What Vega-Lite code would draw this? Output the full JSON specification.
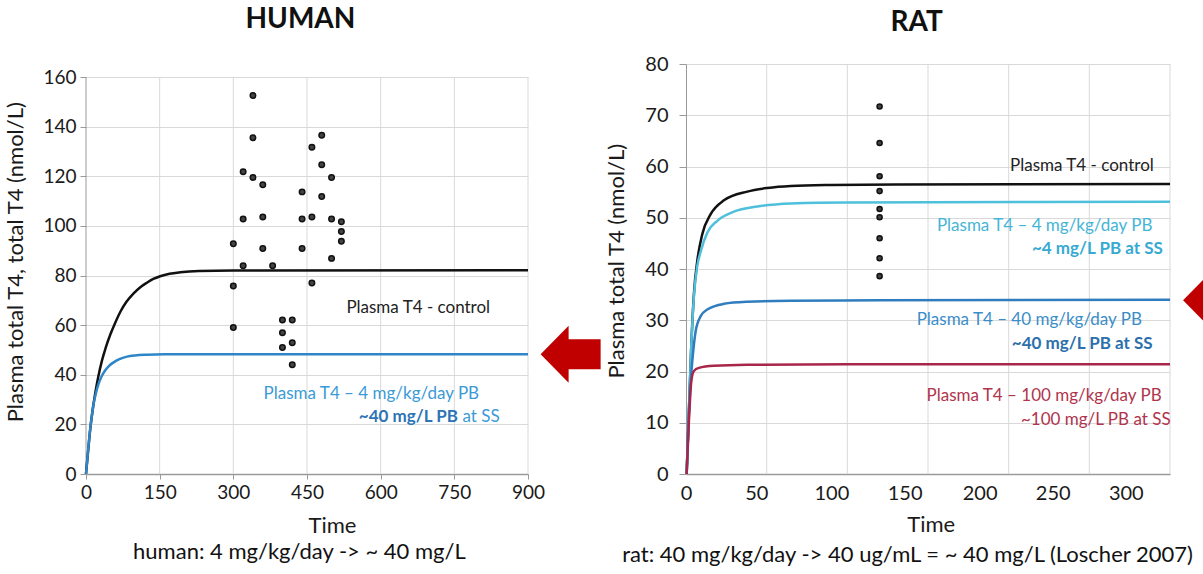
{
  "$schema": "https://vega.github.io/schema/vega-lite/v6.json",
  "background": "white",
  "padding": {"left": 4, "top": 5, "right": 0, "bottom": 0},
  "config": {"view": {"stroke": null}, "font": "Lato", "axis": {"labelFont": "Lato", "titleFont": "Lato"}},
  "datasets": {
    "humanCurves": [
      {"x": 0, "y": 0, "series": "control"}, {"x": 4, "y": 8.6, "series": "control"}, {"x": 8.8, "y": 18.4, "series": "control"}, {"x": 14, "y": 26.5, "series": "control"}, {"x": 19, "y": 32.8, "series": "control"}, {"x": 25, "y": 39.2, "series": "control"}, {"x": 32.6, "y": 45.8, "series": "control"}, {"x": 40, "y": 50.8, "series": "control"}, {"x": 49.5, "y": 56.2, "series": "control"}, {"x": 60, "y": 61.2, "series": "control"}, {"x": 70, "y": 65.4, "series": "control"}, {"x": 82, "y": 69.3, "series": "control"}, {"x": 97, "y": 72.8, "series": "control"}, {"x": 110, "y": 75.2, "series": "control"}, {"x": 124, "y": 77.1, "series": "control"}, {"x": 137, "y": 78.6, "series": "control"}, {"x": 151, "y": 79.7, "series": "control"}, {"x": 170, "y": 80.7, "series": "control"}, {"x": 192, "y": 81.3, "series": "control"}, {"x": 230, "y": 81.8, "series": "control"}, {"x": 300, "y": 82.0, "series": "control"}, {"x": 900, "y": 82.1, "series": "control"},
      {"x": 0, "y": 0, "series": "pb4"}, {"x": 4, "y": 8.8, "series": "pb4"}, {"x": 8.8, "y": 18.6, "series": "pb4"}, {"x": 12, "y": 23.5, "series": "pb4"}, {"x": 15.5, "y": 28.2, "series": "pb4"}, {"x": 20, "y": 32.4, "series": "pb4"}, {"x": 25.7, "y": 36.4, "series": "pb4"}, {"x": 32, "y": 39.4, "series": "pb4"}, {"x": 39.3, "y": 41.8, "series": "pb4"}, {"x": 47, "y": 43.6, "series": "pb4"}, {"x": 56.2, "y": 45.0, "series": "pb4"}, {"x": 68, "y": 46.3, "series": "pb4"}, {"x": 83.5, "y": 47.3, "series": "pb4"}, {"x": 100, "y": 47.8, "series": "pb4"}, {"x": 124, "y": 48.1, "series": "pb4"}, {"x": 160, "y": 48.3, "series": "pb4"}, {"x": 900, "y": 48.3, "series": "pb4"}
    ],
    "humanObserved": [
      {"x": 300, "y": 92.8}, {"x": 300, "y": 75.8}, {"x": 300, "y": 59.0},
      {"x": 320, "y": 121.8}, {"x": 320, "y": 102.8}, {"x": 320, "y": 83.9},
      {"x": 340, "y": 152.5}, {"x": 340, "y": 135.5}, {"x": 340, "y": 119.5},
      {"x": 360, "y": 116.6}, {"x": 360, "y": 103.6}, {"x": 360, "y": 90.9},
      {"x": 380, "y": 83.9},
      {"x": 400, "y": 62.1}, {"x": 400, "y": 56.9}, {"x": 400, "y": 51.0},
      {"x": 420, "y": 62.1}, {"x": 420, "y": 52.9}, {"x": 420, "y": 44.0},
      {"x": 440, "y": 113.7}, {"x": 440, "y": 102.8}, {"x": 440, "y": 90.9},
      {"x": 460, "y": 131.7}, {"x": 460, "y": 103.6}, {"x": 460, "y": 77.0},
      {"x": 480, "y": 136.5}, {"x": 480, "y": 124.6}, {"x": 480, "y": 111.8},
      {"x": 500, "y": 119.5}, {"x": 500, "y": 102.8}, {"x": 500, "y": 86.9},
      {"x": 520, "y": 101.7}, {"x": 520, "y": 97.7}, {"x": 520, "y": 93.8}
    ],
    "ratCurves": [
      {"x": 0.4, "y": 0, "series": "control"}, {"x": 1.8, "y": 12.3, "series": "control"}, {"x": 3.3, "y": 25.3, "series": "control"}, {"x": 4.9, "y": 35.1, "series": "control"}, {"x": 7, "y": 41.6, "series": "control"}, {"x": 10.1, "y": 46.8, "series": "control"}, {"x": 15.3, "y": 50.7, "series": "control"}, {"x": 23.5, "y": 53.4, "series": "control"}, {"x": 38, "y": 55.1, "series": "control"}, {"x": 50.4, "y": 55.8, "series": "control"}, {"x": 65, "y": 56.2, "series": "control"}, {"x": 90, "y": 56.4, "series": "control"}, {"x": 130, "y": 56.5, "series": "control"}, {"x": 300, "y": 56.6, "series": "control"},
      {"x": 0.4, "y": 0, "series": "pb4"}, {"x": 1.8, "y": 12.3, "series": "pb4"}, {"x": 3.3, "y": 25.2, "series": "pb4"}, {"x": 4.9, "y": 34.6, "series": "pb4"}, {"x": 7, "y": 40.6, "series": "pb4"}, {"x": 9.1, "y": 43.4, "series": "pb4"}, {"x": 13.2, "y": 47.1, "series": "pb4"}, {"x": 19.4, "y": 49.4, "series": "pb4"}, {"x": 29.7, "y": 51.2, "series": "pb4"}, {"x": 44.2, "y": 52.2, "series": "pb4"}, {"x": 65, "y": 52.8, "series": "pb4"}, {"x": 100, "y": 53.0, "series": "pb4"}, {"x": 300, "y": 53.1, "series": "pb4"},
      {"x": 0.4, "y": 0, "series": "pb40"}, {"x": 1.8, "y": 12.0, "series": "pb40"}, {"x": 3.0, "y": 18.5, "series": "pb40"}, {"x": 3.9, "y": 22.0, "series": "pb40"}, {"x": 6, "y": 27.9, "series": "pb40"}, {"x": 9.1, "y": 30.8, "series": "pb40"}, {"x": 13.2, "y": 32.1, "series": "pb40"}, {"x": 23.5, "y": 33.2, "series": "pb40"}, {"x": 38, "y": 33.6, "series": "pb40"}, {"x": 65, "y": 33.8, "series": "pb40"}, {"x": 120, "y": 33.9, "series": "pb40"}, {"x": 300, "y": 34.0, "series": "pb40"},
      {"x": 0.4, "y": 0, "series": "pb100"}, {"x": 1.8, "y": 10.3, "series": "pb100"}, {"x": 3.3, "y": 18.1, "series": "pb100"}, {"x": 4.9, "y": 20.1, "series": "pb100"}, {"x": 8, "y": 20.7, "series": "pb100"}, {"x": 17.3, "y": 21.1, "series": "pb100"}, {"x": 38, "y": 21.3, "series": "pb100"}, {"x": 100, "y": 21.4, "series": "pb100"}, {"x": 300, "y": 21.4, "series": "pb100"}
    ],
    "ratObserved": [
      {"x": 120, "y": 71.7}, {"x": 120, "y": 64.6}, {"x": 120, "y": 58.1}, {"x": 120, "y": 55.2}, {"x": 120, "y": 51.7}, {"x": 120, "y": 50.1}, {"x": 120, "y": 46.0}, {"x": 120, "y": 42.1}, {"x": 120, "y": 38.6}
    ]
  },
  "columns": 2,
  "align": "each",
  "bounds": "full",
  "spacing": 4,
  "resolve": {"scale": {"color": "independent"}},
  "concat": [
    {
      "width": 442,
      "height": 410,
      "layer": [
        {
          "data": {"values": [{"x": 150}, {"x": 300}, {"x": 450}, {"x": 600}, {"x": 750}, {"x": 900}]},
          "mark": {"type": "rule", "color": "#d9d9d9", "strokeWidth": 1},
          "encoding": {
            "x": {"field": "x", "type": "quantitative", "scale": {"domain": [0, 900], "nice": false, "zero": false}},
            "y": {"datum": 0, "type": "quantitative", "scale": {"domain": [0, 165.24], "nice": false}},
            "y2": {"datum": 160}
          }
        },
        {
          "data": {"values": [{"x": 0}]},
          "mark": {"type": "rule", "color": "#9a9a9a", "strokeWidth": 1},
          "encoding": {
            "x": {"field": "x", "type": "quantitative", "scale": {"domain": [0, 900], "nice": false, "zero": false}},
            "y": {"datum": 0, "type": "quantitative", "scale": {"domain": [0, 165.24], "nice": false}},
            "y2": {"datum": 160}
          }
        },
        {
          "data": {"name": "humanCurves"},
          "mark": {"type": "line", "strokeWidth": 2.5, "interpolate": "monotone"},
          "encoding": {
            "x": {"field": "x", "type": "quantitative", "scale": {"domain": [0, 900], "nice": false, "zero": false},
              "axis": {"values": [0, 150, 300, 450, 600, 750, 900], "grid": false, "domainColor": "#9a9a9a", "domainWidth": 1.5, "tickColor": "#9a9a9a", "tickSize": 5, "labelFontSize": 19, "labelColor": "#1a1a1a", "labelPadding": 4, "labelFlush": false, "labelOverlap": false, "labelBound": false, "title": "Time", "titleFontSize": 22, "titleFontWeight": "normal", "titleColor": "#1a1a1a", "titleX": 246, "titleY": 58.5, "titleBaseline": "alphabetic"}},
            "y": {"field": "y", "type": "quantitative", "scale": {"domain": [0, 165.24], "nice": false},
              "axis": {"values": [0, 20, 40, 60, 80, 100, 120, 140, 160], "grid": true, "gridColor": "#d9d9d9", "domain": false, "tickColor": "#9a9a9a", "tickSize": 6, "labelFontSize": 19, "labelColor": "#1a1a1a", "labelPadding": 4, "labelOverlap": false, "labelBound": false, "title": "Plasma total T4,  total T4 (nmol/L)", "titleFontSize": 22, "titleFontWeight": "normal", "titleColor": "#1a1a1a", "titleX": -70.7, "titleY": 197.7, "titleBaseline": "middle"}},
            "color": {"field": "series", "type": "nominal", "scale": {"domain": ["pb4", "control"], "range": ["#2E86C8", "#111111"]}, "legend": null}
          }
        },
        {
          "data": {"name": "humanObserved"},
          "mark": {"type": "point", "filled": true, "size": 30, "fill": "#444444", "stroke": "#111111", "strokeWidth": 1.5, "opacity": 1},
          "encoding": {
            "x": {"field": "x", "type": "quantitative", "scale": {"domain": [0, 900], "nice": false, "zero": false}},
            "y": {"field": "y", "type": "quantitative", "scale": {"domain": [0, 165.24], "nice": false}}
          }
        },
        {
          "data": {"values": [{"x": 436.7, "y": 179.9, "label": "HUMAN"}]},
          "mark": {"type": "text", "font": "Lato", "fontSize": 28, "fontWeight": "bold", "color": "#111111", "align": "center", "baseline": "alphabetic"},
          "encoding": {
            "x": {"field": "x", "type": "quantitative", "scale": {"domain": [0, 900], "nice": false, "zero": false}},
            "y": {"field": "y", "type": "quantitative", "scale": {"domain": [0, 165.24], "nice": false}},
            "text": {"field": "label"}
          }
        },
        {
          "data": {"values": [{"x": 676.5, "y": 67, "label": "Plasma T4 - control"}]},
          "mark": {"type": "text", "font": "Lato", "fontSize": 17, "color": "#222222", "align": "center", "baseline": "middle"},
          "encoding": {
            "x": {"field": "x", "type": "quantitative", "scale": {"domain": [0, 900], "nice": false, "zero": false}},
            "y": {"field": "y", "type": "quantitative", "scale": {"domain": [0, 165.24], "nice": false}},
            "text": {"field": "label"}
          }
        },
        {
          "data": {"values": [{"x": 581, "y": 32.3, "label": "Plasma T4 – 4 mg/kg/day PB"}]},
          "mark": {"type": "text", "font": "Lato", "fontSize": 17, "color": "#3B9AD6", "align": "center", "baseline": "middle"},
          "encoding": {
            "x": {"field": "x", "type": "quantitative", "scale": {"domain": [0, 900], "nice": false, "zero": false}},
            "y": {"field": "y", "type": "quantitative", "scale": {"domain": [0, 165.24], "nice": false}},
            "text": {"field": "label"}
          }
        },
        {
          "data": {"values": [{"x": 766.7, "y": 23.1, "label": "at SS"}]},
          "mark": {"type": "text", "font": "Lato", "fontSize": 17, "color": "#3B9AD6", "align": "left", "baseline": "middle"},
          "encoding": {
            "x": {"field": "x", "type": "quantitative", "scale": {"domain": [0, 900], "nice": false, "zero": false}},
            "y": {"field": "y", "type": "quantitative", "scale": {"domain": [0, 165.24], "nice": false}},
            "text": {"field": "label"}
          }
        },
        {
          "data": {"values": [{"x": 757.2, "y": 23.1, "label": "~40 mg/L PB"}]},
          "mark": {"type": "text", "font": "Lato", "fontSize": 17, "fontWeight": "bold", "color": "#2E74B5", "align": "right", "baseline": "middle"},
          "encoding": {
            "x": {"field": "x", "type": "quantitative", "scale": {"domain": [0, 900], "nice": false, "zero": false}},
            "y": {"field": "y", "type": "quantitative", "scale": {"domain": [0, 165.24], "nice": false}},
            "text": {"field": "label"}
          }
        },
        {
          "data": {"values": [{"x": 434.6, "y": -34.1, "label": "human: 4 mg/kg/day -> ~ 40 mg/L"}]},
          "mark": {"type": "text", "font": "Lato", "fontSize": 22, "color": "#111111", "align": "center", "baseline": "alphabetic"},
          "encoding": {
            "x": {"field": "x", "type": "quantitative", "scale": {"domain": [0, 900], "nice": false, "zero": false}},
            "y": {"field": "y", "type": "quantitative", "scale": {"domain": [0, 165.24], "nice": false}},
            "text": {"field": "label"}
          }
        },
        {
          "data": {"values": [{"x": 986.8, "y": 48.3}]},
          "mark": {"type": "point", "shape": "M -1 0 L -0.067 -0.95 L -0.067 -0.5 L 1 -0.5 L 1 0.5 L -0.067 0.5 L -0.067 0.95 Z", "size": 3600, "filled": true, "color": "#C00000", "opacity": 1, "strokeWidth": 0},
          "encoding": {
            "x": {"field": "x", "type": "quantitative", "scale": {"domain": [0, 900], "nice": false, "zero": false}},
            "y": {"field": "y", "type": "quantitative", "scale": {"domain": [0, 165.24], "nice": false}}
          }
        }
      ]
    },
    {
      "width": 484,
      "height": 410,
      "layer": [
        {
          "data": {"values": [{"x": 50}, {"x": 100}, {"x": 150}, {"x": 200}, {"x": 250}, {"x": 300}]},
          "mark": {"type": "rule", "color": "#d9d9d9", "strokeWidth": 1},
          "encoding": {
            "x": {"field": "x", "type": "quantitative", "scale": {"domain": [0, 300], "nice": false, "zero": false},
              "axis": {"values": [0, 43.6, 90.1, 135.5, 182, 227.3, 272.6], "labelExpr": "format(round(datum.value / 45.43) * 50, 'd')", "grid": false, "ticks": false, "domainColor": "#9a9a9a", "domainWidth": 1.5, "labelFontSize": 20, "labelColor": "#1a1a1a", "labelPadding": 9, "labelFlush": false, "labelOverlap": false, "labelBound": false, "title": "Time", "titleFontSize": 22, "titleFontWeight": "normal", "titleColor": "#1a1a1a", "titleX": 244.7, "titleY": 57.7, "titleBaseline": "alphabetic"}}
          }
        },
        {
          "data": {"name": "ratCurves"},
          "mark": {"type": "line", "strokeWidth": 2.5, "interpolate": "monotone"},
          "encoding": {
            "x": {"field": "x", "type": "quantitative", "scale": {"domain": [0, 300], "nice": false, "zero": false}},
            "y": {"field": "y", "type": "quantitative", "scale": {"domain": [0, 80], "nice": false},
              "axis": {"values": [0, 10, 20, 30, 40, 50, 60, 70, 80], "grid": true, "gridColor": "#d9d9d9", "domainColor": "#9a9a9a", "tickColor": "#9a9a9a", "tickSize": 7, "labelFontSize": 20, "labelColor": "#1a1a1a", "labelPadding": 11, "labelOverlap": false, "labelBound": false, "title": "Plasma total T4 (nmol/L)", "titleFontSize": 22, "titleFontWeight": "normal", "titleColor": "#1a1a1a", "titleX": -70, "titleY": 196.7, "titleBaseline": "middle"}},
            "color": {"field": "series", "type": "nominal", "scale": {"domain": ["pb100", "pb40", "pb4", "control"], "range": ["#A8264A", "#2F7DBE", "#4FC0DB", "#111111"]}, "legend": null}
          }
        },
        {
          "data": {"name": "ratObserved"},
          "mark": {"type": "point", "filled": true, "size": 26, "fill": "#444444", "stroke": "#111111", "strokeWidth": 1.5, "opacity": 1},
          "encoding": {
            "x": {"field": "x", "type": "quantitative", "scale": {"domain": [0, 300], "nice": false, "zero": false}},
            "y": {"field": "y", "type": "quantitative", "scale": {"domain": [0, 80], "nice": false}}
          }
        },
        {
          "data": {"values": [{"x": 142.9, "y": 86.38, "label": "RAT"}]},
          "mark": {"type": "text", "font": "Lato", "fontSize": 28, "fontWeight": "bold", "color": "#111111", "align": "center", "baseline": "alphabetic"},
          "encoding": {
            "x": {"field": "x", "type": "quantitative", "scale": {"domain": [0, 300], "nice": false, "zero": false}},
            "y": {"field": "y", "type": "quantitative", "scale": {"domain": [0, 80], "nice": false}},
            "text": {"field": "label"}
          }
        },
        {
          "data": {"values": [{"x": 245.4, "y": 60.1, "label": "Plasma T4 - control"}]},
          "mark": {"type": "text", "font": "Lato", "fontSize": 17, "color": "#222222", "align": "center", "baseline": "middle"},
          "encoding": {
            "x": {"field": "x", "type": "quantitative", "scale": {"domain": [0, 300], "nice": false, "zero": false}},
            "y": {"field": "y", "type": "quantitative", "scale": {"domain": [0, 80], "nice": false}},
            "text": {"field": "label"}
          }
        },
        {
          "data": {"values": [{"x": 222.3, "y": 48.3, "label": "Plasma T4 – 4 mg/kg/day PB"}]},
          "mark": {"type": "text", "font": "Lato", "fontSize": 17, "color": "#45B5D6", "align": "center", "baseline": "middle"},
          "encoding": {
            "x": {"field": "x", "type": "quantitative", "scale": {"domain": [0, 300], "nice": false, "zero": false}},
            "y": {"field": "y", "type": "quantitative", "scale": {"domain": [0, 80], "nice": false}},
            "text": {"field": "label"}
          }
        },
        {
          "data": {"values": [{"x": 255.0, "y": 43.9, "label": "~4 mg/L PB at SS"}]},
          "mark": {"type": "text", "font": "Lato", "fontSize": 17, "fontWeight": "bold", "color": "#36AAD2", "align": "center", "baseline": "middle"},
          "encoding": {
            "x": {"field": "x", "type": "quantitative", "scale": {"domain": [0, 300], "nice": false, "zero": false}},
            "y": {"field": "y", "type": "quantitative", "scale": {"domain": [0, 80], "nice": false}},
            "text": {"field": "label"}
          }
        },
        {
          "data": {"values": [{"x": 212.8, "y": 30.0, "label": "Plasma T4 – 40 mg/kg/day PB"}]},
          "mark": {"type": "text", "font": "Lato", "fontSize": 17, "color": "#3A8DC9", "align": "center", "baseline": "middle"},
          "encoding": {
            "x": {"field": "x", "type": "quantitative", "scale": {"domain": [0, 300], "nice": false, "zero": false}},
            "y": {"field": "y", "type": "quantitative", "scale": {"domain": [0, 80], "nice": false}},
            "text": {"field": "label"}
          }
        },
        {
          "data": {"values": [{"x": 245.6, "y": 25.4, "label": "~40 mg/L PB at SS"}]},
          "mark": {"type": "text", "font": "Lato", "fontSize": 17, "fontWeight": "bold", "color": "#2C6FAC", "align": "center", "baseline": "middle"},
          "encoding": {
            "x": {"field": "x", "type": "quantitative", "scale": {"domain": [0, 300], "nice": false, "zero": false}},
            "y": {"field": "y", "type": "quantitative", "scale": {"domain": [0, 80], "nice": false}},
            "text": {"field": "label"}
          }
        },
        {
          "data": {"values": [{"x": 222, "y": 15.2, "label": "Plasma T4 – 100 mg/kg/day PB"}, {"x": 254, "y": 10.6, "label": "~100 mg/L PB at SS"}]},
          "mark": {"type": "text", "font": "Lato", "fontSize": 17, "color": "#B0344C", "align": "center", "baseline": "middle"},
          "encoding": {
            "x": {"field": "x", "type": "quantitative", "scale": {"domain": [0, 300], "nice": false, "zero": false}},
            "y": {"field": "y", "type": "quantitative", "scale": {"domain": [0, 80], "nice": false}},
            "text": {"field": "label"}
          }
        },
        {
          "data": {"values": [{"x": 137.3, "y": -17.1, "label": "rat: 40 mg/kg/day -> 40 ug/mL = ~ 40 mg/L (Loscher 2007)"}]},
          "mark": {"type": "text", "font": "Lato", "fontSize": 22, "color": "#111111", "align": "center", "baseline": "alphabetic"},
          "encoding": {
            "x": {"field": "x", "type": "quantitative", "scale": {"domain": [0, 300], "nice": false, "zero": false}},
            "y": {"field": "y", "type": "quantitative", "scale": {"domain": [0, 80], "nice": false}},
            "text": {"field": "label"}
          }
        },
        {
          "data": {"values": [{"x": 308.1, "y": 33.9}]},
          "mark": {"type": "point", "shape": "M 0 0 L 1 -1.02 L 1 1.02 Z", "size": 1600, "filled": true, "color": "#C00000", "opacity": 1, "strokeWidth": 0},
          "encoding": {
            "x": {"field": "x", "type": "quantitative", "scale": {"domain": [0, 300], "nice": false, "zero": false}},
            "y": {"field": "y", "type": "quantitative", "scale": {"domain": [0, 80], "nice": false}}
          }
        }
      ]
    }
  ]
}
